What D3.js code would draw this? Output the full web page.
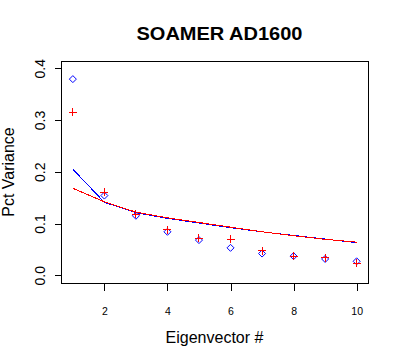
<!DOCTYPE html>
<html><head><meta charset="utf-8">
<script src="https://cdn.jsdelivr.net/npm/d3@7"></script>
<style>body{margin:0;background:#fff}svg{display:block}</style>
</head><body>
<script>
const eigenvectors = [1,2,3,4,5,6,7,8,9,10];
const bluePoints = [0.379,0.154,0.115,0.084,0.068,0.053,0.042,0.037,0.0315,0.027];
const redPoints  = [0.315,0.160,0.118,0.088,0.0715,0.0695,0.047,0.037,0.034,0.023];
const blueLine   = [0.205,0.141,0.121,0.110,0.101,0.092,0.084,0.077,0.070,0.063];
const redLine    = [0.168,0.142,0.122,0.111,0.102,0.093,0.084,0.0765,0.0695,0.064];
const xTicks = [2,4,6,8,10];
const yTicks = [0.0,0.1,0.2,0.3,0.4];

const W=400,H=360;
const svg=d3.select("body").append("svg").attr("width",W).attr("height",H);
const x=d3.scaleLinear().domain([0.64,10.36]).range([61.5,368]);
const y=d3.scaleLinear().domain([-0.0149,0.414]).range([283,61]);

const font="Liberation Sans, Arial, sans-serif";

// box
svg.append("rect").attr("x",61.5).attr("y",61.5).attr("width",368-61.5).attr("height",283-61.5)
  .attr("fill","none").attr("stroke","#000").attr("stroke-width",1).attr("shape-rendering","crispEdges");

// x axis
const xa=svg.append("g").attr("transform","translate(0,283.5)")
  .call(d3.axisBottom(x).tickValues(xTicks).tickSize(7).tickSizeOuter(0).tickFormat(d3.format("d")).tickPadding(17));
xa.select(".domain").attr("d",`M${x(2)},0H${x(10)}`).attr("stroke","#000").attr("shape-rendering","crispEdges");
xa.selectAll("text").attr("font-family",font).attr("font-size",10.5).attr("fill","#000");
xa.selectAll("line").attr("stroke","#000").attr("shape-rendering","crispEdges");

// y axis
const ya=svg.append("g").attr("transform","translate(61.5,0)")
  .call(d3.axisLeft(y).tickValues(yTicks).tickSize(7).tickSizeOuter(0).tickFormat(d3.format(".1f")));
ya.select(".domain").attr("d",`M0,${y(0)}V${y(0.4)}`).attr("stroke","#000").attr("shape-rendering","crispEdges");
ya.selectAll("line").attr("stroke","#000").attr("shape-rendering","crispEdges");
ya.selectAll("text").remove();
ya.selectAll(".tick").append("text")
  .attr("transform","translate(-16.5,0) rotate(-90)")
  .attr("text-anchor","middle").attr("font-family",font).attr("font-size",14).attr("fill","#000")
  .text(d=>d3.format(".1f")(d));

// lines
const line=(vals)=>d3.line().x((d,i)=>x(eigenvectors[i])).y(d=>y(d))(vals);
svg.append("path").attr("d",line(blueLine)).attr("fill","none").attr("stroke","#0000ff").attr("stroke-width",1).attr("shape-rendering","crispEdges");
svg.append("path").attr("d",line(redLine)).attr("fill","none").attr("stroke","#ff0000").attr("stroke-width",1).attr("shape-rendering","crispEdges");

// blue diamonds
svg.append("g").selectAll("path").data(bluePoints).join("path")
  .attr("transform",(d,i)=>`translate(${x(eigenvectors[i])},${y(d)})`)
  .attr("d","M0,-3.5L3.5,0L0,3.5L-3.5,0Z").attr("fill","none").attr("stroke","#0000ff").attr("stroke-width",1);
// red plus
svg.append("g").selectAll("path").data(redPoints).join("path")
  .attr("transform",(d,i)=>`translate(${x(eigenvectors[i])},${y(d)})`)
  .attr("d","M-4,0H4M0,-4V4").attr("fill","none").attr("stroke","#ff0000").attr("stroke-width",1).attr("shape-rendering","crispEdges");

// texts
svg.append("text").attr("x",219.5).attr("y",40).attr("text-anchor","middle")
  .attr("font-family",font).attr("font-weight","bold").attr("font-size",18)
  .attr("textLength",166).attr("lengthAdjust","spacingAndGlyphs").text("SOAMER AD1600");
svg.append("text").attr("x",214.5).attr("y",342.5).attr("text-anchor","middle")
  .attr("font-family",font).attr("font-size",16).text("Eigenvector #");
svg.append("text").attr("transform",`translate(14,172) rotate(-90)`).attr("text-anchor","middle")
  .attr("font-family",font).attr("font-size",16).text("Pct Variance");
</script>
</body></html>
